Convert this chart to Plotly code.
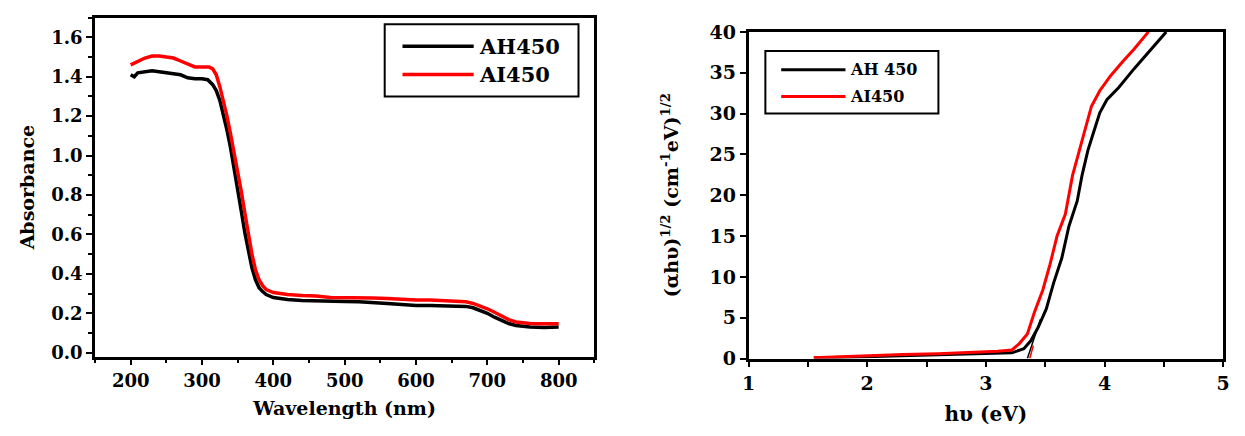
import plotly.graph_objects as go

# ---------------- data ----------------
series_names = ["AH450", "AI450"]
series_names_right = ["AH 450", "AI450"]

wl_AH450 = [200, 205, 210, 220, 230, 240, 250, 260, 270, 280, 290, 300, 308, 315, 320, 325, 330, 335,
            340, 345, 350, 355, 360, 365, 370, 375, 380, 385, 390, 400, 410, 420, 440, 460, 480, 500,
            520, 540, 560, 580, 600, 620, 640, 660, 670, 680, 690, 700, 710, 720, 730, 740, 750, 760,
            780, 800]
abs_AH450 = [1.41, 1.40, 1.42, 1.425, 1.43, 1.425, 1.42, 1.415, 1.41, 1.395, 1.39, 1.39, 1.385, 1.36,
             1.33, 1.28, 1.21, 1.13, 1.04, 0.94, 0.83, 0.72, 0.61, 0.51, 0.43, 0.37, 0.33, 0.31, 0.295,
             0.28, 0.275, 0.27, 0.265, 0.262, 0.26, 0.26, 0.258, 0.252, 0.25, 0.245, 0.24, 0.24, 0.238,
             0.237, 0.235, 0.228, 0.215, 0.20, 0.18, 0.162, 0.148, 0.138, 0.132, 0.13, 0.128, 0.13]

wl_AI450 = [200, 205, 210, 220, 230, 240, 250, 260, 270, 280, 290, 300, 310, 315, 320, 325, 330, 335,
            340, 345, 350, 355, 360, 365, 370, 375, 380, 385, 390, 400, 410, 420, 440, 460, 480, 500,
            520, 540, 560, 580, 600, 620, 640, 660, 670, 680, 690, 700, 710, 720, 730, 740, 750, 760,
            780, 800]
abs_AI450 = [1.46, 1.47, 1.48, 1.495, 1.505, 1.505, 1.50, 1.495, 1.48, 1.465, 1.45, 1.45, 1.45, 1.44,
             1.41, 1.35, 1.28, 1.20, 1.11, 1.02, 0.92, 0.82, 0.71, 0.60, 0.50, 0.42, 0.37, 0.34, 0.32,
             0.305, 0.30, 0.295, 0.29, 0.288, 0.28, 0.28, 0.278, 0.277, 0.275, 0.27, 0.268, 0.267,
             0.265, 0.262, 0.258, 0.25, 0.238, 0.223, 0.205, 0.185, 0.168, 0.156, 0.15, 0.148, 0.147,
             0.147]

hv_AH450 = [1.55, 1.8, 2.0, 2.3, 2.6, 2.9, 3.1, 3.22, 3.32, 3.38, 3.44, 3.51, 3.57, 3.64, 3.70, 3.77,
            3.81, 3.86, 3.91, 3.96, 4.02, 4.12, 4.25, 4.37, 4.52]
tauc_AH450 = [0.05, 0.15, 0.25, 0.35, 0.45, 0.55, 0.6, 0.7, 1.2, 2.2, 3.8, 6.1, 9.2, 12.3, 16.2, 19.3,
              22.4, 25.5, 27.8, 30.1, 31.7, 33.2, 35.5, 37.5, 40.0]

hv_AI450 = [1.55, 1.8, 2.0, 2.3, 2.6, 2.9, 3.0, 3.1, 3.22, 3.28, 3.35, 3.41, 3.48, 3.54, 3.60, 3.67,
            3.73, 3.80, 3.89, 3.96, 4.05, 4.15, 4.25, 4.37]
tauc_AI450 = [0.1, 0.25, 0.35, 0.5, 0.6, 0.75, 0.8, 0.9, 1.05, 1.8, 3.0, 5.7, 8.4, 11.5, 15.0, 17.7,
              22.4, 26.2, 30.9, 32.8, 34.6, 36.3, 37.9, 40.0]

# band-gap extrapolation lines
fit_hv_AH450 = [3.35, 3.46]
fit_tauc_AH450 = [0.0, 4.8]
fit_hv_AI450 = [3.37, 3.40]
fit_tauc_AI450 = [0.0, 1.6]

colors = ["#000000", "#ff0000"]

left_xticks = [200, 300, 400, 500, 600, 700, 800]
left_yticks = [0.0, 0.2, 0.4, 0.6, 0.8, 1.0, 1.2, 1.4, 1.6]
right_xticks = [1, 2, 3, 4, 5]
right_yticks = [0, 5, 10, 15, 20, 25, 30, 35, 40]

# ---------------- figure ----------------
FONT = "DejaVu Serif"
W, H = 1245, 436

fig = go.Figure()

fig.add_trace(go.Scatter(x=wl_AH450, y=abs_AH450, mode="lines", name=series_names[0],
                         line=dict(color=colors[0], width=3.5), xaxis="x", yaxis="y", showlegend=False))
fig.add_trace(go.Scatter(x=wl_AI450, y=abs_AI450, mode="lines", name=series_names[1],
                         line=dict(color=colors[1], width=3.5), xaxis="x", yaxis="y", showlegend=False))

fig.add_trace(go.Scatter(x=fit_hv_AH450, y=fit_tauc_AH450, mode="lines", name="AH 450 fit",
                         line=dict(color=colors[0], width=1.5), xaxis="x2", yaxis="y2", showlegend=False))
fig.add_trace(go.Scatter(x=fit_hv_AI450, y=fit_tauc_AI450, mode="lines", name="AI450 fit",
                         line=dict(color=colors[1], width=1.5), xaxis="x2", yaxis="y2", showlegend=False))
fig.add_trace(go.Scatter(x=hv_AH450, y=tauc_AH450, mode="lines", name=series_names_right[0],
                         line=dict(color=colors[0], width=3), xaxis="x2", yaxis="y2", showlegend=False))
fig.add_trace(go.Scatter(x=hv_AI450, y=tauc_AI450, mode="lines", name=series_names_right[1],
                         line=dict(color=colors[1], width=3), xaxis="x2", yaxis="y2", showlegend=False))

tickfont = dict(family=FONT, size=18, color="black", weight="bold")
axis_common = dict(showline=True, linecolor="black", linewidth=2.5, mirror=True,
                   ticks="outside", tickcolor="black", tickwidth=2, ticklen=6,
                   showgrid=False, zeroline=False, tickfont=tickfont)

# pixel layout -> domains
Lx0, Lx1, Ly0, Ly1 = 89, 594, 7, 364
Rx0, Rx1, Ry0, Ry1 = 750, 1230, 22, 366

fig.update_layout(
    width=W, height=H,
    margin=dict(l=0, r=0, t=0, b=0),
    paper_bgcolor="white", plot_bgcolor="white",
    xaxis=dict(domain=[Lx0 / W, Lx1 / W], anchor="y", range=[150, 850],
               tickvals=left_xticks, ticktext=[str(v) for v in left_xticks],
               minor=dict(dtick=50, tick0=150, ticks="outside", ticklen=4, tickwidth=2, tickcolor="black"),
               title=dict(text="Wavelength (nm)", font=dict(family=FONT, size=19, color="black", weight="bold"),
                          standoff=12),
               **axis_common),
    yaxis=dict(domain=[1 - Ly1 / H, 1 - Ly0 / H], anchor="x", range=[-0.02, 1.7],
               tickvals=left_yticks, ticktext=[f"{v:.1f}" for v in left_yticks],
               minor=dict(dtick=0.1, tick0=0, ticks="outside", ticklen=4, tickwidth=2, tickcolor="black"),
               title=dict(text="Absorbance", font=dict(family=FONT, size=19, color="black", weight="bold"),
                          standoff=12),
               **axis_common),
    xaxis2=dict(domain=[Rx0 / W, Rx1 / W], anchor="y2", range=[1, 5],
                tickvals=right_xticks, ticktext=[str(v) for v in right_xticks],
                minor=dict(dtick=0.5, tick0=1, ticks="outside", ticklen=6, tickwidth=2, tickcolor="black"),
                title=dict(text="hυ (eV)", font=dict(family=FONT, size=20, color="black", weight="bold"),
                           standoff=14),
                **{**axis_common, "tickfont": dict(family=FONT, size=19, color="black", weight="bold")}),
    yaxis2=dict(domain=[1 - Ry1 / H, 1 - Ry0 / H], anchor="x2", range=[0, 40],
                tickvals=right_yticks, ticktext=[str(v) for v in right_yticks],
                title=dict(text="(αhυ)<sup>1/2</sup> (cm<sup>-1</sup>eV)<sup>1/2</sup>",
                           font=dict(family=FONT, size=19, color="black", weight="bold"), standoff=26),
                **{**axis_common, "tickfont": dict(family=FONT, size=19, color="black", weight="bold")}),
)

# ---------------- manual legends ----------------
def px_x(p):
    return p / W

def px_y(p):
    return 1 - p / H

shapes = []
annotations = []

# left legend
shapes.append(dict(type="rect", xref="paper", yref="paper", x0=px_x(382), x1=px_x(578),
                   y0=px_y(90), y1=px_y(14), line=dict(color="black", width=2), fillcolor="rgba(0,0,0,0)"))
for i, (name, yc) in enumerate(zip(series_names, [37, 67])):
    shapes.append(dict(type="line", xref="paper", yref="paper", x0=px_x(400), x1=px_x(472),
                       y0=px_y(yc), y1=px_y(yc), line=dict(color=colors[i], width=3.5)))
    annotations.append(dict(xref="paper", yref="paper", x=px_x(475), y=px_y(yc), text=name,
                            showarrow=False, xanchor="left", yanchor="middle",
                            font=dict(family=FONT, size=21, color="black", weight="bold")))

# right legend
shapes.append(dict(type="rect", xref="paper", yref="paper", x0=px_x(767), x1=px_x(942),
                   y0=px_y(108), y1=px_y(42), line=dict(color="black", width=2), fillcolor="rgba(0,0,0,0)"))
for i, (name, yc) in enumerate(zip(series_names_right, [62, 90])):
    shapes.append(dict(type="line", xref="paper", yref="paper", x0=px_x(783), x1=px_x(848),
                       y0=px_y(yc), y1=px_y(yc), line=dict(color=colors[i], width=3)))
    annotations.append(dict(xref="paper", yref="paper", x=px_x(851), y=px_y(yc), text=name,
                            showarrow=False, xanchor="left", yanchor="middle",
                            font=dict(family=FONT, size=16, color="black", weight="bold")))

fig.update_layout(shapes=shapes, annotations=annotations)

fig.write_html("out.html")
